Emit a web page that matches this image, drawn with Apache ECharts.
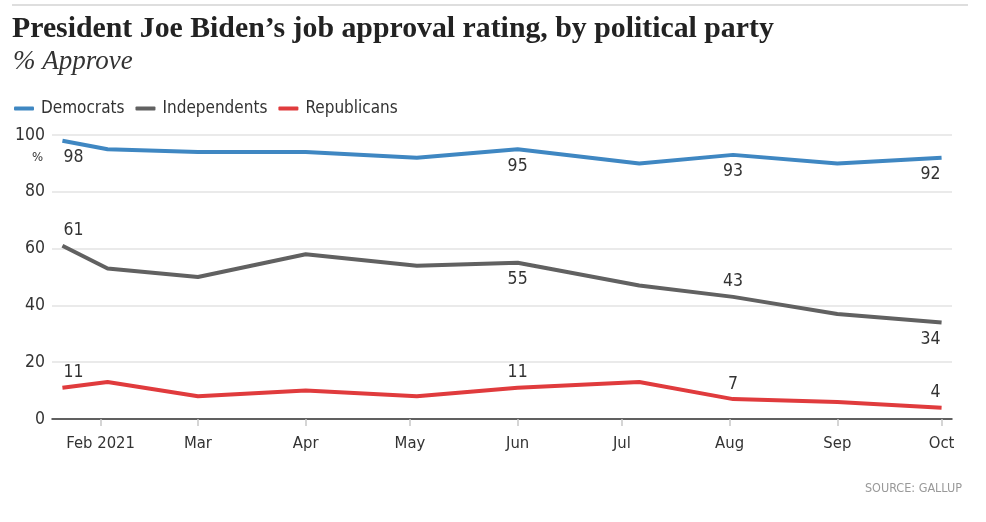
<!DOCTYPE html>
<html>
<head>
<meta charset="utf-8">
<script src="https://cdn.jsdelivr.net/npm/echarts@6/dist/echarts.min.js"></script>
<style>
html,body{margin:0;padding:0;background:#fff;}
#chart{width:986px;height:522px;}
</style>
</head>
<body>
<div id="chart"></div>
<script>
// ---- data ----
const dates = ['2021-01-21','2021-02-03','2021-03-01','2021-04-01','2021-05-03','2021-06-01','2021-07-06','2021-08-02','2021-09-01','2021-10-01'];
const democrats    = [98, 95, 94, 94, 92, 95, 90, 93, 90, 92];
const independents = [61, 53, 50, 58, 54, 55, 47, 43, 37, 34];
const republicans  = [11, 13,  8, 10,  8, 11, 13,  7,  6,  4];
const labeledIdx = [0, 5, 7, 9];
const demLabelPos = ['bottom','bottom','bottom','bottom'];
const indLabelPos = ['top','bottom','top','bottom'];
const repLabelPos = ['top','top','top','top'];
const tickDates  = ['2021-02-01','2021-03-01','2021-04-01','2021-05-01','2021-06-01','2021-07-01','2021-08-01','2021-09-01','2021-10-01'];
const tickLabels = ['Feb 2021','Mar','Apr','May','Jun','Jul','Aug','Sep','Oct'];
const yTicks = [0, 20, 40, 60, 80, 100];

const DAY = 86400000;
function ts(s){ const p = s.split('-').map(Number); return Date.UTC(p[0], p[1]-1, p[2]) / DAY; }
const tickTs = tickDates.map(ts);

const FONT = '"DejaVu Sans Condensed", "Liberation Sans Narrow", "DejaVu Sans", sans-serif';
const SERIF = '"Liberation Serif", "DejaVu Serif", serif';

function buildData(values, positions){
  return dates.map((d, i) => {
    const k = labeledIdx.indexOf(i);
    const item = { value: [ts(d), values[i]] };
    if (k >= 0) {
      const pos = positions[k];
      let align = 'center';
      let offset = [0, 0];
      if (i === 0) { align = 'left'; offset = [1, 0]; }
      if (i === dates.length - 1) { align = 'right'; offset = [-1, 0]; }
      item.label = {
        show: true, position: pos, align: align, offset: offset,
        distance: pos === 'top' ? 6 : 8,
        formatter: String(values[i]),
        color: '#333', fontSize: 17.5, fontFamily: FONT
      };
    }
    return item;
  });
}

function lineSeries(name, color, values, positions){
  return {
    name: name, type: 'line', showSymbol: true, symbol: 'circle', symbolSize: 0,
    lineStyle: { color: color, width: 4 }, itemStyle: { color: color },
    label: { show: false }, emphasis: { disabled: true },
    data: buildData(values, positions), z: 3
  };
}

const chart = echarts.init(document.getElementById('chart'), null, { renderer: 'canvas' });
chart.setOption({
  animation: false,
  backgroundColor: '#fff',
  title: [
    { text: 'President Joe Biden\u2019s job approval rating, by political party', left: 7, top: 9,
      textStyle: { fontFamily: SERIF, fontWeight: 'bold', fontSize: 29.8, color: '#222' } },
    { text: '% Approve', left: 8, top: 43,
      textStyle: { fontFamily: SERIF, fontStyle: 'italic', fontWeight: 'normal', fontSize: 27, color: '#333' } },
    { text: 'SOURCE: GALLUP', right: 19, top: 477,
      textStyle: { fontFamily: FONT, fontWeight: 'normal', fontSize: 12.5, color: '#999' } }
  ],
  graphic: [
    { type: 'line', shape: { x1: 12, y1: 5, x2: 968, y2: 5 }, style: { stroke: '#dedede', lineWidth: 2 } }
  ],
  legend: {
    left: 9, top: 95, itemWidth: 20, itemHeight: 4, itemGap: 11, icon: 'roundRect',
    textStyle: { fontFamily: FONT, fontSize: 17, color: '#333', padding: [0, 0, 0, 2] },
    data: ['Democrats', 'Independents', 'Republicans']
  },
  grid: { left: 52, right: 34, top: 135, bottom: 103, containLabel: false },
  xAxis: {
    type: 'value', min: ts('2021-01-18'), max: ts('2021-10-04'),
    axisLine: { show: true, lineStyle: { color: '#333', width: 1.5 } },
    axisTick: { show: true, length: 7, lineStyle: { color: '#c8c8c8', width: 1.5 }, customValues: tickTs },
    axisLabel: {
      customValues: tickTs, margin: 16, color: '#333', fontSize: 16.5, fontFamily: FONT,
      formatter: function(v){ const k = tickTs.indexOf(v); return k >= 0 ? tickLabels[k] : ''; }
    },
    splitLine: { show: false }
  },
  yAxis: {
    type: 'value', min: 0, max: 100, interval: 20,
    name: '%', nameLocation: 'end', nameGap: -29,
    nameTextStyle: { fontFamily: FONT, fontSize: 13, color: '#333', align: 'right', padding: [0, 9, 0, 0] },
    axisLine: { show: false }, axisTick: { show: false },
    axisLabel: { margin: 7, color: '#333', fontSize: 17.5, fontFamily: FONT,
      formatter: function(v){ return yTicks.indexOf(v) >= 0 ? String(v) : ''; } },
    splitLine: { show: true, lineStyle: { color: '#e3e3e3', width: 1.5 } }
  },
  series: [
    lineSeries('Democrats', '#3f87c2', democrats, demLabelPos),
    lineSeries('Independents', '#616161', independents, indLabelPos),
    lineSeries('Republicans', '#e03b3d', republicans, repLabelPos)
  ]
});
</script>
</body>
</html>
